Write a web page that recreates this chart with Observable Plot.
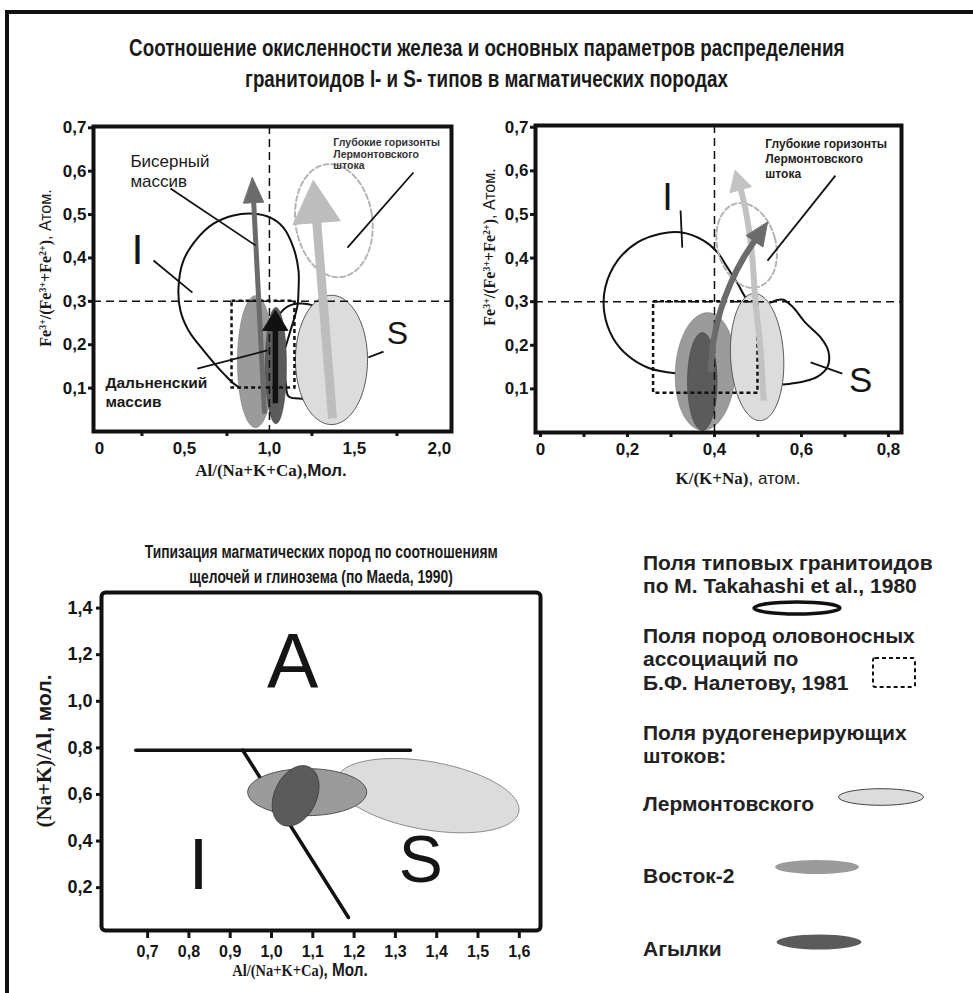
<!DOCTYPE html>
<html><head><meta charset="utf-8">
<script src="https://cdn.jsdelivr.net/npm/d3@7"></script>
<script src="https://cdn.jsdelivr.net/npm/@observablehq/plot@0.6"></script>
<style>
html,body{margin:0;padding:0;background:#fff;}
#page{position:relative;width:973px;height:993px;overflow:hidden;background:#fff;font-family:"Liberation Sans",Arial,sans-serif;color:#1a1a1a;}
.abs{position:absolute;}
.bar{position:absolute;background:#111;}
.title{position:absolute;left:0;width:973px;text-align:center;font-family:"Liberation Sans",Arial,sans-serif;font-weight:bold;font-size:23px;line-height:1;white-space:nowrap;}
.title span{display:inline-block;transform:scaleX(0.817);transform-origin:50% 50%;}
.btitle{position:absolute;width:500px;text-align:center;font-family:"Liberation Sans",Arial,sans-serif;font-weight:bold;font-size:18px;line-height:1;white-space:nowrap;}
.btitle span{display:inline-block;transform:scaleX(0.77);transform-origin:50% 50%;}
.lbl{position:absolute;white-space:nowrap;transform:translate(-50%,-50%);line-height:1;}
.rot{transform:translate(-50%,-50%) rotate(-90deg);}
.cond{transform:translate(-50%,-50%) scaleX(0.85);}
.serif{font-family:"Liberation Serif","Times New Roman",serif;font-weight:bold;}
.sans{font-family:"Liberation Sans",Arial,sans-serif;}
sup{font-size:0.62em;vertical-align:0.55em;line-height:0;}
</style></head>
<body><div id="page"></div>
<script>
// ================= DATA =================
// Top-left panel: Al/(Na+K+Ca) vs Fe3+/(Fe3+ + Fe2+)
const tlXLabels = [0, 0.5, 1.0, 1.5, 2.0];
const tlXMinor = [0.25, 0.75, 1.25, 1.75];
const tlYTicks = [0.1, 0.2, 0.3, 0.4, 0.5, 0.6, 0.7];
const tlRefX = [1.0];
const tlRefY = [0.3];
const tlIField = [[0.906,0.502],[1.006,0.493],[1.082,0.470],[1.141,0.424],[1.171,0.371],[1.171,0.325],[1.165,0.290],[1.124,0.233],[1.065,0.164],[0.976,0.106],[0.829,0.101],[0.729,0.134],[0.612,0.187],[0.524,0.233],[0.476,0.279],[0.465,0.332],[0.494,0.394],[0.576,0.445],[0.671,0.479],[0.788,0.498]];
const tlSField = [[0.994,0.203],[1.047,0.263],[1.106,0.288],[1.182,0.295],[1.259,0.290],[1.359,0.267],[1.447,0.164],[1.359,0.071],[1.241,0.074],[1.171,0.076],[1.112,0.081],[1.094,0.118],[1.082,0.152]];
const tlStocks = [
  {name:"Восток-2", cx:0.918, cy:0.161, rx:0.106, ry:0.152, angle:0},
  {name:"Агылки", cx:1.038, cy:0.152, rx:0.062, ry:0.134, angle:0},
  {name:"Лермонтовского", cx:1.365, cy:0.165, rx:0.212, ry:0.149, angle:0}
];
const tlDeep = {cx:1.379, cy:0.486, rx:0.226, ry:0.131, angle:-8};
const tlBox = [{x1:0.78, x2:1.15, y1:0.10, y2:0.30}];
const tlArrowBiser = [[0.971,0.041],[0.900,0.585]];
const tlArrowLerm = [[1.371,0.030],[1.259,0.578]];
const tlArrowDaln = [[1.035,0.065],[1.035,0.279]];
const tlLeaders = [
  {x1:0.418,y1:0.560,x2:0.918,y2:0.429},
  {x1:0.318,y1:0.394,x2:0.547,y2:0.320},
  {x1:1.582,y1:0.171,x2:1.671,y2:0.184},
  {x1:1.847,y1:0.597,x2:1.459,y2:0.424},
  {x1:0.576,y1:0.145,x2:0.988,y2:0.187}
];
const tlNotes = [{text:"Бисерный\nмассив", x:0.182, y:0.601}];
const tlNotesBold = [{text:"Дальненский\nмассив", x:0.035, y:0.092}];
const tlDeepNote = [{text:"Глубокие горизонты\nЛермонтовского\nштока", x:1.376, y:0.640}];
const tlBigI = [{text:"I", x:0.224, y:0.417}];
const tlBigS = [{text:"S", x:1.753, y:0.226}];

// Top-right panel: K/(K+Na) vs Fe3+/(Fe3+ + Fe2+)
const trXLabels = [0, 0.2, 0.4, 0.6, 0.8];
const trXMinor = [0.1, 0.3, 0.5, 0.7];
const trYTicks = [0.1, 0.2, 0.3, 0.4, 0.5, 0.6, 0.7];
const trRefX = [0.4];
const trRefY = [0.3];
const trIField = [[0.322,0.135],[0.292,0.138],[0.246,0.149],[0.200,0.177],[0.166,0.218],[0.147,0.273],[0.149,0.333],[0.177,0.394],[0.223,0.436],[0.276,0.456],[0.322,0.459],[0.375,0.440],[0.407,0.413],[0.430,0.378],[0.453,0.342],[0.471,0.310],[0.487,0.291]];
const trSField = [[0.529,0.298],[0.556,0.305],[0.579,0.289],[0.609,0.252],[0.644,0.218],[0.662,0.186],[0.660,0.151],[0.637,0.128],[0.605,0.117],[0.575,0.112],[0.552,0.110]];
const trStocks = [
  {name:"Восток-2", cx:0.379, cy:0.140, rx:0.069, ry:0.135, angle:3},
  {name:"Агылки", cx:0.372, cy:0.117, rx:0.034, ry:0.112, angle:0},
  {name:"Лермонтовского", cx:0.498, cy:0.173, rx:0.061, ry:0.146, angle:-3}
];
const trDeep = {cx:0.474, cy:0.429, rx:0.067, ry:0.099, angle:-15};
const trBox = [{x1:0.26, x2:0.50, y1:0.09, y2:0.30}];
const trArrowDark = [[0.391,0.138],[0.398,0.211],[0.414,0.280],[0.437,0.342],[0.467,0.401],[0.522,0.482]];
const trArrowLight = [[0.513,0.073],[0.506,0.188],[0.494,0.303],[0.487,0.401],[0.476,0.486],[0.464,0.544],[0.448,0.601]];
const trLeaders = [
  {x1:0.322,y1:0.509,x2:0.326,y2:0.424},
  {x1:0.621,y1:0.161,x2:0.694,y2:0.135},
  {x1:0.678,y1:0.589,x2:0.522,y2:0.394}
];
const trDeepNote = [{text:"Глубокие горизонты\nЛермонтовского\nштока", x:0.517, y:0.628}];
const trBigI = [{text:"I", x:0.292, y:0.537}];
const trBigS = [{text:"S", x:0.736, y:0.119}];

// Bottom panel: Al/(Na+K+Ca) vs (Na+K)/Al (Maeda, 1990)
const bXTicks = [0.7, 0.8, 0.9, 1.0, 1.1, 1.2, 1.3, 1.4, 1.5, 1.6];
const bYTicks = [0.2, 0.4, 0.6, 0.8, 1.0, 1.2, 1.4];
const bBoundaryH = [[0.681,0.79],[1.346,0.79]];
const bBoundaryD = [[0.940,0.79],[1.196,0.072]];
const bStocks = [
  {name:"Лермонтовского", cx:1.388, cy:0.595, rx:0.224, ry:0.146, angle:10},
  {name:"Восток-2", cx:1.096, cy:0.610, rx:0.144, ry:0.101, angle:0},
  {name:"Агылки", cx:1.068, cy:0.594, rx:0.051, ry:0.137, angle:25}
];
const bFieldA = [{text:"A", x:1.061, y:1.162}];
const bFieldI = [{text:"I", x:0.833, y:0.295}];
const bFieldS = [{text:"S", x:1.371, y:0.317}];

// Legend
const legendTakahashi = ["Поля типовых гранитоидов", "по М. Takahashi et al., 1980"];
const legendNaletov = ["Поля пород оловоносных", "ассоциаций по", "Б.Ф. Налетову, 1981"];
const legendStocksHead = ["Поля рудогенерирующих", "штоков:"];
const legendStocks = ["Лермонтовского", "Восток-2", "Агылки"];

// ================= DRAWING =================
const FONT = '"Liberation Sans", Arial, sans-serif';
const fill = {"Лермонтовского":"#dcdcdc", "Восток-2":"#9b9b9b", "Агылки":"#5b5b5b"};
const edge = {"Лермонтовского":"#555", "Восток-2":"#7a7a7a", "Агылки":"#444"};
const page = document.getElementById("page");
const comma = d => (d === 0 ? "0" : d.toFixed(1).replace(".", ","));
const X = d => d[0], Y = d => d[1];

function geom(P){
  return {kx:(P.width-P.ml-P.mr)/(P.x[1]-P.x[0]), ky:(P.height-P.mt-P.mb)/(P.y[1]-P.y[0])};
}
function ellipsePts(e, P, n=144){
  const {kx,ky} = geom(P);
  const a = e.rx*kx, b = e.ry*ky, th = (e.angle||0)*Math.PI/180;
  const pts = [];
  for (let i=0;i<n;i++){
    const t = 2*Math.PI*i/n, u = a*Math.cos(t), v = b*Math.sin(t);
    const up = u*Math.cos(th) - v*Math.sin(th), vp = u*Math.sin(th) + v*Math.cos(th);
    pts.push([e.cx + up/kx, e.cy - vp/ky]);
  }
  return pts;
}
function ellipseMark(e, P, opts){
  return Plot.line(ellipsePts(e,P), {x:X, y:Y, curve:"linear-closed", ...opts});
}
function arrowMarks(path, P, o){
  const {kx,ky} = geom(P);
  const tip = path[path.length-1], prev = path[path.length-2];
  let dx = (tip[0]-prev[0])*kx, dy = -(tip[1]-prev[1])*ky;
  const L = Math.hypot(dx,dy); dx/=L; dy/=L;
  const toData = (ox,oy) => [tip[0]+ox/kx, tip[1]-oy/ky];
  const bx = -dx*o.headLen, by = -dy*o.headLen, px = -dy, py = dx, hw = o.headWidth/2;
  const head = [toData(0,0), toData(bx+px*hw, by+py*hw), toData(bx-px*hw, by-py*hw)];
  const shaft = path.slice(0,-1).concat([toData(bx*0.6, by*0.6)]);
  return [
    Plot.line(shaft, {x:X, y:Y, stroke:o.color, strokeWidth:o.width, curve:o.curve||"linear", strokeLinecap:"butt"}),
    Plot.line(head, {x:X, y:Y, fill:o.color, stroke:o.color, strokeWidth:1, curve:"linear-closed"})
  ];
}
function panel(P, marks){
  const svg = Plot.plot({
    width:P.width, height:P.height,
    marginLeft:P.ml, marginRight:P.mr, marginTop:P.mt, marginBottom:P.mb,
    x:{domain:P.x}, y:{domain:P.y},
    style:{fontFamily:FONT, fontSize:"17px", fontWeight:"bold", color:"#151515", background:"transparent", overflow:"visible"},
    marks
  });
  const d = document.createElement("div");
  d.className = "abs"; d.style.left = P.left+"px"; d.style.top = P.top+"px";
  d.appendChild(svg); page.appendChild(d);
}
function refLines(rx, ry){
  return [
    Plot.ruleY(ry, {stroke:"#111", strokeWidth:1.5, strokeDasharray:"8,5"}),
    Plot.ruleX(rx, {stroke:"#111", strokeWidth:1.5, strokeDasharray:"8,5"})
  ];
}
const boxOpts = {x1:"x1", x2:"x2", y1:"y1", y2:"y2", fill:"none", stroke:"#111", strokeWidth:2.5, strokeDasharray:"4,3"};
const curveOpts = {x:X, y:Y, stroke:"#111", strokeWidth:2, curve:"catmull-rom-closed"};
const curveOpen = {x:X, y:Y, stroke:"#111", strokeWidth:2, curve:"catmull-rom"};
const leaderOpts = {x1:"x1", y1:"y1", x2:"x2", y2:"y2", stroke:"#111", strokeWidth:1.8};
const bigLetter = size => ({x:"x", y:"y", text:"text", fontSize:size, fontWeight:"normal", fontFamily:FONT, fill:"#151515"});

// ---- Top-left ----
const TL = {left:40, top:110, width:430, height:375, ml:53, mr:19, mt:16, mb:54, x:[-0.035,2.071], y:[0,0.703]};
panel(TL, [
  Plot.line(tlIField, curveOpts),
  Plot.line(tlSField, curveOpts),
  ellipseMark(tlDeep, TL, {stroke:"#b4b4b4", strokeWidth:2, strokeDasharray:"5,3", fill:"none"}),
  ...tlStocks.map(e => ellipseMark(e, TL, {fill:fill[e.name], stroke:edge[e.name], strokeWidth:e.name==="Лермонтовского"?1:0.6})),
  ...refLines(tlRefX, tlRefY),
  Plot.rect(tlBox, boxOpts),
  ...arrowMarks(tlArrowBiser, TL, {color:"#6b6b6b", width:5, headLen:25, headWidth:20}),
  ...arrowMarks(tlArrowLerm, TL, {color:"#bdbdbd", width:9, headLen:42, headWidth:47}),
  ...arrowMarks(tlArrowDaln, TL, {color:"#111", width:5.5, headLen:20, headWidth:25}),
  Plot.link(tlLeaders, leaderOpts),
  Plot.text(tlNotes, {x:"x", y:"y", text:"text", textAnchor:"start", lineAnchor:"middle", lineHeight:1.2, fontSize:17, fontWeight:"normal", fill:"#1a1a1a"}),
  Plot.text(tlNotesBold, {x:"x", y:"y", text:"text", textAnchor:"start", lineAnchor:"middle", lineHeight:1.18, fontSize:15.5, fontWeight:"bold", fill:"#1a1a1a"}),
  Plot.text(tlDeepNote, {x:"x", y:"y", text:"text", textAnchor:"start", lineAnchor:"middle", lineHeight:1.1, fontSize:10.5, fontWeight:"bold", fill:"#333"}),
  Plot.text(tlBigI, bigLetter(43)),
  Plot.text(tlBigS, bigLetter(32)),
  Plot.axisY({ticks:tlYTicks, tickSize:5, tickPadding:2, tickFormat:comma, strokeWidth:3, fontSize:17, fontWeight:"bold", label:null}),
  Plot.axisX({ticks:tlXMinor, tickSize:5, tickFormat:() => "", strokeWidth:3, label:null}),
  Plot.axisX({ticks:tlXLabels, tickSize:0, tickPadding:10, tickFormat:comma, fontSize:17, fontWeight:"bold", label:null}),
  Plot.frame({stroke:"#111", strokeWidth:4})
]);

// ---- Top-right ----
const TR = {left:480, top:110, width:440, height:375, ml:55, mr:19, mt:15, mb:53, x:[-0.0115,0.830], y:[0,0.704]};
panel(TR, [
  Plot.line(trIField, curveOpen),
  Plot.line(trSField, curveOpen),
  ellipseMark(trDeep, TR, {stroke:"#b4b4b4", strokeWidth:2, strokeDasharray:"5,3", fill:"none"}),
  ...trStocks.filter(e => e.name!=="Лермонтовского").map(e => ellipseMark(e, TR, {fill:fill[e.name], stroke:edge[e.name], strokeWidth:0.6})),
  ...trStocks.filter(e => e.name==="Лермонтовского").map(e => ellipseMark(e, TR, {fill:fill[e.name], stroke:edge[e.name], strokeWidth:1})),
  ...refLines(trRefX, trRefY),
  Plot.rect(trBox, boxOpts),
  ...arrowMarks(trArrowLight, TR, {color:"#c2c2c2", width:6, headLen:20, headWidth:22, curve:"catmull-rom"}),
  ...arrowMarks(trArrowDark, TR, {color:"#6b6b6b", width:6, headLen:23, headWidth:20, curve:"catmull-rom"}),
  Plot.link(trLeaders, leaderOpts),
  Plot.text(trDeepNote, {x:"x", y:"y", text:"text", textAnchor:"start", lineAnchor:"middle", lineHeight:1.25, fontSize:12, fontWeight:"bold", fill:"#222"}),
  Plot.text(trBigI, bigLetter(38)),
  Plot.text(trBigS, bigLetter(35)),
  Plot.axisY({ticks:trYTicks, tickSize:5, tickPadding:2, tickFormat:comma, strokeWidth:3, fontSize:17, fontWeight:"bold", label:null}),
  Plot.axisX({ticks:trXMinor, tickSize:5, tickFormat:() => "", strokeWidth:3, label:null}),
  Plot.axisX({ticks:trXLabels, tickSize:5, tickPadding:5, tickFormat:comma, strokeWidth:3, fontSize:17, fontWeight:"bold", label:null}),
  Plot.frame({stroke:"#111", strokeWidth:4})
]);

// ---- Bottom ----
const BT = {left:30, top:585, width:530, height:400, ml:71, mr:20, mt:7, mb:55, x:[0.598,1.661], y:[0.016,1.467]};
panel(BT, [
  Plot.line(bBoundaryH, {x:X, y:Y, stroke:"#111", strokeWidth:3.5}),
  Plot.line(bBoundaryD, {x:X, y:Y, stroke:"#111", strokeWidth:3.5}),
  ...bStocks.map(e => ellipseMark(e, BT, {fill:fill[e.name], stroke:e.name==="Лермонтовского"?"#8a8a8a":"#333", strokeWidth:e.name==="Лермонтовского"?1:0.8})),
  Plot.text(bFieldA, bigLetter(77)),
  Plot.text(bFieldI, bigLetter(72)),
  Plot.text(bFieldS, bigLetter(66)),
  Plot.axisY({ticks:bYTicks, tickSize:5, tickPadding:4, tickFormat:comma, strokeWidth:3, fontSize:18, fontWeight:"bold", label:null}),
  Plot.axisX({ticks:bXTicks, tickSize:8, tickPadding:7, tickFormat:comma, strokeWidth:3, fontSize:16, fontWeight:"bold", dx:4, label:null}),
  Plot.frame({stroke:"#111", strokeWidth:4, rx:4})
]);

// ---- Page frame, titles, axis labels ----
function addHTML(html){ page.insertAdjacentHTML("beforeend", html); }
addHTML('<div class="bar" style="left:5px;top:10px;width:968px;height:4px"></div>');
addHTML('<div class="bar" style="left:5px;top:10px;width:4px;height:983px"></div>');
addHTML('<div class="title" style="top:37px"><span>Соотношение окисленности железа и основных параметров распределения</span></div>');
addHTML('<div class="title" style="top:68px"><span>гранитоидов I- и S- типов в магматических породах</span></div>');
addHTML('<div class="btitle" style="left:71px;top:543px"><span>Типизация магматических пород по соотношениям</span></div>');
addHTML('<div class="btitle" style="left:71px;top:568px"><span>щелочей и глинозема (по Maeda, 1990)</span></div>');

addHTML('<div class="lbl" style="left:271px;top:470px;font-size:17px"><span class="serif">Al/(Na+K+Ca)</span><span class="sans" style="font-weight:bold">,Мол.</span></div>');
addHTML('<div class="lbl rot" style="left:46px;top:268px;font-size:16px"><span class="serif">Fe<sup>3+</sup>/(Fe<sup>3+</sup>+Fe<sup>2+</sup>)</span><span class="sans">, Атом.</span></div>');
addHTML('<div class="lbl" style="left:738px;top:478px;font-size:17px"><span class="serif">K/(K+Na)</span><span class="sans">, атом.</span></div>');
addHTML('<div class="lbl rot" style="left:490px;top:247px;font-size:16px"><span class="serif">Fe<sup>3+</sup>/(Fe<sup>3+</sup>+Fe<sup>2+</sup>)</span><span class="sans">, Атом.</span></div>');
addHTML('<div class="lbl cond" style="left:300px;top:970px;font-size:17px"><span class="serif">Al/(Na+K+Ca)</span><span class="sans" style="font-weight:bold;font-size:18px">, Мол.</span></div>');
addHTML('<div class="lbl rot" style="left:44px;top:751px;font-size:21px"><span class="serif">(Na+K)/Al</span><span class="sans" style="font-weight:bold">, мол.</span></div>');

// ---- Legend ----
const lg = d3.create("svg").attr("width",373).attr("height",450)
  .style("position","absolute").style("left","600px").style("top","540px")
  .style("font-family",FONT).style("font-weight","bold").style("font-size","21px");
const txt = (s,y) => lg.append("text").attr("x",43).attr("y",y).attr("dominant-baseline","central").attr("fill","#222").text(s);
legendTakahashi.forEach((s,i) => txt(s, 22 + i*23));
lg.append("ellipse").attr("cx",197).attr("cy",68).attr("rx",43).attr("ry",6).attr("fill","none").attr("stroke","#111").attr("stroke-width",3.5);
legendNaletov.forEach((s,i) => txt(s, 95 + i*23.5));
lg.append("rect").attr("x",273).attr("y",118).attr("width",42).attr("height",29).attr("rx",2).attr("fill","none").attr("stroke","#111").attr("stroke-width",2).attr("stroke-dasharray","4,3");
legendStocksHead.forEach((s,i) => txt(s, 192 + i*23));
const sy = [263, 335, 408];
const shapes = [{cx:281, cy:257, rx:42.5, ry:8.3}, {cx:217, cy:327, rx:42, ry:7}, {cx:219, cy:402, rx:42.5, ry:7.5}];
legendStocks.forEach((s,i) => {
  txt(s, sy[i]);
  lg.append("ellipse").attr("cx",shapes[i].cx).attr("cy",shapes[i].cy).attr("rx",shapes[i].rx).attr("ry",shapes[i].ry)
    .attr("fill",fill[s]).attr("stroke", s==="Лермонтовского" ? "#444" : "none").attr("stroke-width",1);
});
page.appendChild(lg.node());
</script>
</body></html>
